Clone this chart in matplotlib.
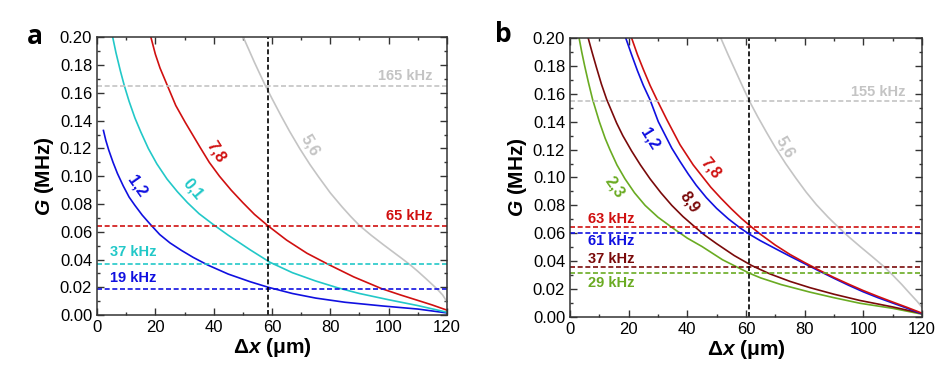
import matplotlib
matplotlib.use("Agg")
import matplotlib.pyplot as plt
from matplotlib.ticker import MultipleLocator

plt.rcParams['font.family'] = ['Liberation Sans', 'DejaVu Sans']
plt.rcParams['mathtext.fontset'] = 'custom'
plt.rcParams['mathtext.it'] = 'Liberation Sans:italic:bold'
plt.rcParams['mathtext.rm'] = 'Liberation Sans:bold'

# ---- panel a: G (MHz) vs dx (um) ----
a_x_12 = [2.2, 3, 4, 5.5, 7, 9, 11, 13, 15.5, 18, 21.5, 25, 29, 33, 38, 45, 52.5, 58.7, 67, 75,
          85, 98, 110, 120]
a_g_12 = [0.133, 0.126, 0.119, 0.110, 0.102, 0.093, 0.085, 0.079, 0.072, 0.066, 0.058, 0.052,
          0.0465, 0.0415, 0.036, 0.0295, 0.024, 0.020, 0.0155, 0.0122, 0.0092, 0.0065, 0.0043, 0.0015]
a_x_01 = [5.4, 6.5, 8, 9.4, 11, 13, 15, 17.6, 20.5, 24, 27.5, 31, 35, 40, 45, 52.5, 59.3, 67, 75,
          82.7, 90, 100, 110, 120]
a_g_01 = [0.200, 0.189, 0.176, 0.165, 0.154, 0.142, 0.132, 0.120, 0.109, 0.098, 0.089, 0.081,
          0.073, 0.065, 0.0575, 0.047, 0.038, 0.0305, 0.0245, 0.0195, 0.0155, 0.011, 0.0068, 0.002]
a_x_78 = [18.5, 20, 21.6, 24.4, 27, 30.2, 35.3, 38.5, 42, 46, 50, 54, 58.5, 65, 72, 79.3, 88,
          97.6, 104, 109.6, 115, 120]
a_g_78 = [0.200, 0.188, 0.178, 0.164, 0.151, 0.139, 0.121, 0.110, 0.100, 0.090, 0.081, 0.0725,
          0.0645, 0.054, 0.0445, 0.0365, 0.0275, 0.019, 0.0145, 0.0108, 0.0072, 0.0035]
a_x_56 = [50.2, 52, 54, 56, 57.8, 60, 63, 66, 69.5, 73, 76, 80, 84, 87, 90, 94, 98, 102, 105,
          107.3, 110, 113, 116.5, 118.5, 120]
a_g_56 = [0.200, 0.1915, 0.182, 0.173, 0.165, 0.156, 0.144, 0.1325, 0.120, 0.1085, 0.0995, 0.088,
          0.078, 0.071, 0.0645, 0.0575, 0.051, 0.0447, 0.040, 0.0363, 0.0315, 0.0258, 0.019, 0.0145,
          0.0095]
a_levels = [0.165, 0.0645, 0.0365, 0.019]
a_level_labels = ['165 kHz', '65 kHz', '37 kHz', '19 kHz']
a_vline = 58.5

# ---- panel b ----
b_x_23 = [3.1, 4, 5, 6.3, 7.7, 10, 12, 13.6, 16, 18.75, 22, 25.6, 30, 35.2, 40, 45, 52, 61, 65,
          72, 81.8, 90, 98.9, 110, 120]
b_g_23 = [0.200, 0.190, 0.180, 0.168, 0.156, 0.140, 0.128, 0.120, 0.109, 0.099, 0.089, 0.080,
          0.0715, 0.0635, 0.0565, 0.0505, 0.041, 0.0315, 0.028, 0.0232, 0.0178, 0.0138, 0.0098,
          0.0062, 0.002]
b_x_89 = [6.2, 7.5, 9, 10.7, 12.5, 15.9, 18, 21, 24, 27.3, 31, 34.7, 38.5, 42.6, 46, 50, 56, 62,
          68, 75, 81.8, 90, 98.9, 110, 120]
b_g_89 = [0.200, 0.190, 0.179, 0.167, 0.156, 0.139, 0.130, 0.119, 0.109, 0.099, 0.089, 0.080,
          0.072, 0.0645, 0.0585, 0.0525, 0.044, 0.0368, 0.031, 0.0255, 0.021, 0.0163, 0.0118,
          0.0072, 0.0025]
b_x_12 = [19, 21, 23, 25, 27.3, 30.1, 34.7, 37.5, 40.3, 43, 46.5, 50, 54, 58, 61, 64.8, 70, 75,
          80, 85, 90, 95, 100, 105, 110, 115, 120]
b_g_12 = [0.200, 0.188, 0.1765, 0.166, 0.1556, 0.140, 0.121, 0.1115, 0.1025, 0.0945, 0.0855,
          0.0778, 0.0703, 0.0638, 0.0595, 0.0548, 0.049, 0.0435, 0.0382, 0.0329, 0.0277, 0.0227,
          0.018, 0.0138, 0.010, 0.0062, 0.0022]
b_x_78 = [21, 23, 25, 27.3, 29.8, 33, 37.5, 42, 45, 48, 51.5, 55, 58.5, 61.7, 64.8, 70, 75, 80,
          85, 90, 95, 100, 105, 110, 115, 120]
b_g_78 = [0.200, 0.188, 0.1775, 0.166, 0.155, 0.1415, 0.1235, 0.109, 0.101, 0.093, 0.085, 0.0775,
          0.0705, 0.0648, 0.0595, 0.0515, 0.0448, 0.039, 0.0335, 0.0283, 0.0235, 0.0189, 0.0147,
          0.0107, 0.0068, 0.0027]
b_x_56 = [51.4, 54, 56.5, 59, 61.1, 64, 67, 70, 73.5, 77, 80.5, 84, 88, 91.5, 95, 99, 103, 106.8,
          110, 113, 116, 118.2, 120]
b_g_56 = [0.200, 0.1875, 0.176, 0.1645, 0.155, 0.1435, 0.1323, 0.1215, 0.110, 0.0995, 0.0895,
          0.0805, 0.0715, 0.0643, 0.0575, 0.0503, 0.0433, 0.0365, 0.030, 0.0235, 0.0165, 0.0115,
          0.007]
b_levels = [0.155, 0.0645, 0.0605, 0.0358, 0.0315]
b_level_labels = ['155 kHz', '63 kHz', '61 kHz', '37 kHz', '29 kHz']
b_vline = 61.0

BLUE = '#1010e0'
CYAN = '#22c8c8'
RED = '#d01010'
GRAY = '#c4c4c4'
GREEN = '#6aab22'
DRED = '#7a0a0a'

fig = plt.figure(figsize=(9.53, 3.76), dpi=100)
ax_a = fig.add_axes([0.1018, 0.1622, 0.3672, 0.7381])
ax_b = fig.add_axes([0.5981, 0.1570, 0.3694, 0.7420])

dash = (0, (3, 1.6))


def style_axes(ax):
    ax.set_xlim(0, 120)
    ax.set_ylim(0, 0.2)
    ax.xaxis.set_major_locator(MultipleLocator(20))
    ax.xaxis.set_minor_locator(MultipleLocator(10))
    ax.yaxis.set_major_locator(MultipleLocator(0.02))
    ax.yaxis.set_minor_locator(MultipleLocator(0.01))
    ax.yaxis.set_major_formatter(plt.FuncFormatter(lambda v, p: f'{v:.2f}'))
    ax.tick_params(which='both', direction='in', top=True, right=True, width=1.0, colors='#333333',
                   labelcolor='black', labelsize=12)
    ax.tick_params(which='major', length=5)
    ax.tick_params(which='minor', length=2.5)
    for s in ax.spines.values():
        s.set_linewidth(1.1)
        s.set_color('#333333')
    ax.set_xlabel('Δ$x$ (μm)', fontsize=15, fontweight='bold', labelpad=1)
    ax.set_ylabel('$G$ (MHz)', fontsize=15, fontweight='bold', labelpad=3)


def label(ax, x, y, s, c, **kw):
    ax.text(x, y, s, color=c, va='center', fontweight='bold', **kw)


# panel a
for x, g, c in [(a_x_12, a_g_12, BLUE), (a_x_01, a_g_01, CYAN), (a_x_78, a_g_78, RED), (a_x_56, a_g_56, GRAY)]:
    ax_a.plot(x, g, color=c, lw=1.2)
for lvl, c in zip(a_levels, [GRAY, RED, CYAN, BLUE]):
    ax_a.axhline(lvl, color=c, lw=1.2, ls=dash)
ax_a.axvline(a_vline, color='black', lw=1.2, ls=dash)
label(ax_a, 115, 0.1725, a_level_labels[0], GRAY, ha='right', fontsize=10.5)
label(ax_a, 115, 0.0715, a_level_labels[1], RED, ha='right', fontsize=10.5)
label(ax_a, 4.5, 0.0455, a_level_labels[2], CYAN, ha='left', fontsize=10.5)
label(ax_a, 4.5, 0.0265, a_level_labels[3], BLUE, ha='left', fontsize=10.5)
label(ax_a, 13.8, 0.093, '1,2', BLUE, rotation=-55, ha='center', fontsize=11.5)
label(ax_a, 32.8, 0.091, '0,1', CYAN, rotation=-50, ha='center', fontsize=11.5)
label(ax_a, 40.8, 0.118, '7,8', RED, rotation=-58, ha='center', fontsize=11.5)
label(ax_a, 73.0, 0.122, '5,6', GRAY, rotation=-60, ha='center', fontsize=11.5)
style_axes(ax_a)

# panel b
for x, g, c in [(b_x_23, b_g_23, GREEN), (b_x_89, b_g_89, DRED), (b_x_12, b_g_12, BLUE), (b_x_78, b_g_78, RED),
                (b_x_56, b_g_56, GRAY)]:
    ax_b.plot(x, g, color=c, lw=1.2)
for lvl, c in zip(b_levels, [GRAY, RED, BLUE, DRED, GREEN]):
    ax_b.axhline(lvl, color=c, lw=1.2, ls=dash)
ax_b.axvline(b_vline, color='black', lw=1.2, ls=dash)
label(ax_b, 114.5, 0.1615, b_level_labels[0], GRAY, ha='right', fontsize=10.5)
label(ax_b, 6.2, 0.0703, b_level_labels[1], RED, ha='left', fontsize=10.5)
label(ax_b, 6.2, 0.0545, b_level_labels[2], BLUE, ha='left', fontsize=10.5)
label(ax_b, 6.2, 0.0413, b_level_labels[3], DRED, ha='left', fontsize=10.5)
label(ax_b, 6.2, 0.0246, b_level_labels[4], GREEN, ha='left', fontsize=10.5)
label(ax_b, 27.2, 0.128, '1,2', BLUE, rotation=-58, ha='center', fontsize=11.5)
label(ax_b, 48.0, 0.107, '7,8', RED, rotation=-50, ha='center', fontsize=11.5)
label(ax_b, 40.8, 0.082, '8,9', DRED, rotation=-55, ha='center', fontsize=11.5)
label(ax_b, 15.2, 0.093, '2,3', GREEN, rotation=-55, ha='center', fontsize=11.5)
label(ax_b, 73.2, 0.122, '5,6', GRAY, rotation=-60, ha='center', fontsize=11.5)
style_axes(ax_b)

fig.text(35 / 953, 1 - 37 / 376, 'a', fontsize=19, fontweight='bold', ha='center', va='center',
         family=['Open Sans', 'DejaVu Sans'])
fig.text(503 / 953, 1 - 35 / 376, 'b', fontsize=19, fontweight='bold', ha='center', va='center',
         family=['Open Sans', 'DejaVu Sans'])

fig.savefig('out.png', dpi=100)
